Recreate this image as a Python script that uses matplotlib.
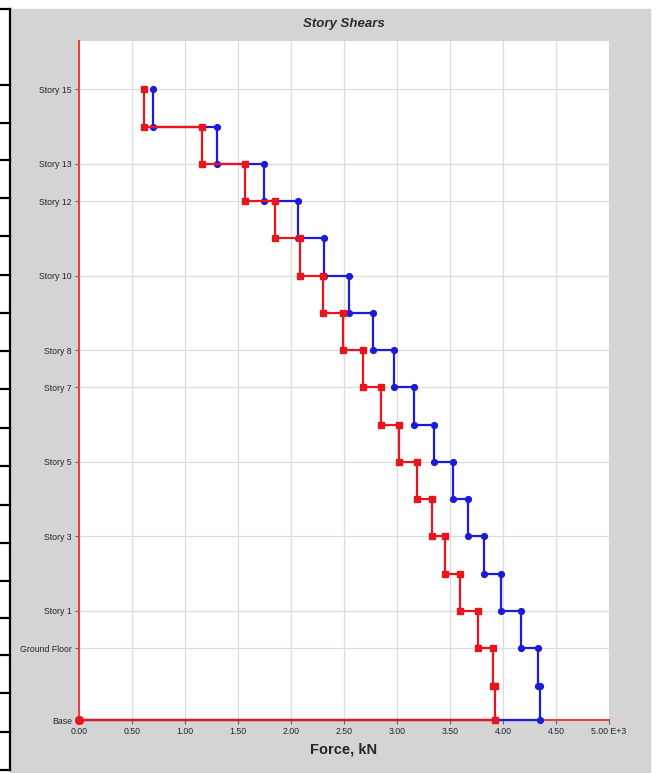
import numpy as np
import matplotlib
matplotlib.use("Agg")
import matplotlib.pyplot as plt
from matplotlib.patches import Rectangle
from matplotlib.lines import Line2D

# level names and elevations (m), bottom to top
levels = ["Base", "Basement", "Ground Floor"] + ["Story %d" % i for i in range(1, 16)]
elev = [0.0, 2.75, 5.8, 8.8, 11.8, 14.8, 17.8, 20.8, 23.8, 26.8, 29.8,
        32.8, 35.8, 38.8, 41.8, 44.8, 47.8, 50.8]

# story shears (E+3 kN) for each story, Basement .. Story 15
shear_eqx = [3.925, 3.908, 3.761, 3.594, 3.453, 3.330, 3.186, 3.019, 2.849,
             2.682, 2.493, 2.305, 2.085, 1.849, 1.566, 1.158, 0.616]
shear_eqy = [4.349, 4.327, 4.170, 3.981, 3.824, 3.670, 3.525, 3.352, 3.163,
             2.972, 2.771, 2.550, 2.314, 2.063, 1.745, 1.299, 0.695]

shown_levels = ["Base", "Ground Floor", "Story 1", "Story 3", "Story 5", "Story 7",
                "Story 8", "Story 10", "Story 12", "Story 13", "Story 15"]
xticks = [0.0, 0.5, 1.0, 1.5, 2.0, 2.5, 3.0, 3.5, 4.0, 4.5, 5.0]
xticklabels = ["0.00", "0.50", "1.00", "1.50", "2.00", "2.50", "3.00", "3.50",
               "4.00", "4.50", "5.00 E+3"]

RED = "#e8141e"
BLUE = "#1c1cd6"
GRAY = "#d4d4d4"

plt.rcParams["font.family"] = ["Liberation Sans", "DejaVu Sans"]


def step_path(shear):
    # top story down to the base, then back along the base to zero
    v = np.array(shear)[::-1]
    e = np.array(elev)
    tops = e[1:][::-1]
    bots = e[:-1][::-1]
    xs = np.repeat(v, 2)
    ys = np.column_stack([tops, bots]).ravel()
    return np.append(xs, 0.0), np.append(ys, 0.0)


fig = plt.figure(figsize=(6.57, 7.73), dpi=100, facecolor="white")

# grey panel and the table rules on the left
fig.add_artist(Rectangle((10 / 657, 0), 640 / 657, 1 - 9 / 773,
                         transform=fig.transFigure, color=GRAY, zorder=0))
fig.add_artist(Line2D([10 / 657, 10 / 657], [1 - 9 / 773, 1 - 770 / 773],
                      transform=fig.transFigure, color="black", lw=1.6))
rule_rows = [9, 85, 123, 160, 198, 236, 275, 313, 351, 389, 428, 466, 505,
             543, 581, 618, 655, 693, 732, 770]
for r in rule_rows:
    fig.add_artist(Line2D([0, 10 / 657], [1 - r / 773, 1 - r / 773],
                          transform=fig.transFigure, color="black", lw=1.6))

ax = fig.add_axes([79 / 657, 53 / 773, 530 / 657, 679 / 773])
ax.set_facecolor("white")

bx, by = step_path(shear_eqy)
rx, ry = step_path(shear_eqx)
ax.plot(bx, by, color=BLUE, lw=1.6, marker="o", ms=4.2, zorder=3, clip_on=False)
ax.plot(rx, ry, color=RED, lw=1.6, marker="s", ms=3.8, zorder=4, clip_on=False)
ax.plot([0], [0], color=RED, marker="o", ms=5.5, zorder=5, clip_on=False)

ax.set_xlim(0, 5.0)
ax.set_ylim(0, 54.7)

ax.set_xticks(xticks)
ax.set_xticklabels(xticklabels)
ax.set_yticks([elev[levels.index(n)] for n in shown_levels])
ax.set_yticklabels(shown_levels)
ax.tick_params(labelsize=6.3, labelcolor="#262626", length=3, width=0.8,
               color="#666666", pad=2)

ax.grid(True, color="#dcdcdc", lw=0.9)
ax.set_axisbelow(True)

for s in ["top", "right"]:
    ax.spines[s].set_visible(False)
for s in ["left", "bottom"]:
    ax.spines[s].set_color("#e8414a")
    ax.spines[s].set_linewidth(1.5)

ax.set_title("Story Shears", fontsize=9.5, fontweight="bold", style="italic",
             color="#2a2a2a", pad=10)
ax.set_xlabel("Force, kN", fontsize=10.5, fontweight="bold", color="#262626",
              labelpad=5)

fig.savefig("out.png", dpi=100)
